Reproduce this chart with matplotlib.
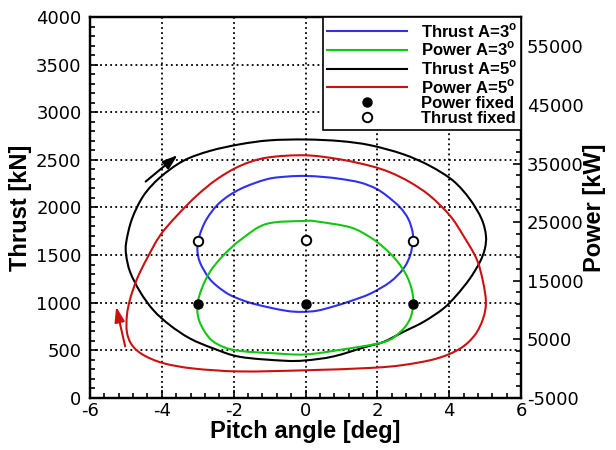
import numpy as np
import matplotlib
matplotlib.use('Agg')
import matplotlib.pyplot as plt
from matplotlib.lines import Line2D
from matplotlib.path import Path
from matplotlib.patches import PathPatch
from matplotlib.ticker import MultipleLocator, FixedLocator

plt.rcParams['font.family'] = ['Liberation Sans', 'DejaVu Sans']
plt.rcParams['mathtext.fontset'] = 'custom'
plt.rcParams['mathtext.rm'] = 'Liberation Sans'
plt.rcParams['mathtext.bf'] = 'Liberation Sans:bold'
plt.rcParams['axes.unicode_minus'] = False

# thrust loop, A = 3 deg  (pitch [deg], thrust [kN])
thrust3_pitch = [0.0, 0.5, 0.97, 1.52, 1.95, 2.26, 2.63, 2.86, 2.98, 2.98, 2.91, 2.72, 2.35,
                 1.80, 1.25, 0.78, 0.32, -0.1, -0.5, -1.08, -1.6, -2.1, -2.45, -2.70, -2.94,
                 -3.01, -2.95, -2.75, -2.38, -1.82, -1.08, -0.5, 0.0]
thrust3_kn = [2331, 2320, 2300, 2262, 2200, 2123, 2001, 1879, 1739, 1634, 1495, 1355, 1216,
              1094, 1016, 960, 915, 903, 912, 955, 1005, 1080, 1170, 1265, 1425,
              1565, 1704, 1879, 2053, 2193, 2296, 2325, 2331]

# power loop, A = 3 deg  (pitch [deg], power [kW])
power3_pitch = [0.0, 0.32, 1.25, 1.80, 2.17, 2.54, 2.81, 2.95, 3.0, 2.91, 2.63, 2.17, 0.97,
                0.0, -0.89, -1.82, -2.29, -2.66, -2.95, -3.01, -2.89, -2.66, -2.29, -1.78,
                -1.08, 0.0]
power3_kw = [25200, 25100, 24100, 22400, 20700, 18400, 15900, 13600, 11300, 8500, 6200, 4500, 3200,
             2400, 2600, 3000, 3700, 5100, 8000, 10800, 13600, 16500, 19300, 22100,
             24700, 25200]

# thrust loop, A = 5 deg
thrust5_pitch = [0.0, 0.97, 1.80, 2.72, 3.46, 4.11, 4.57, 4.90, 5.02, 4.99, 4.85, 4.57, 4.20,
                 3.83, 3.28, 2.72, 2.17, 1.71, 0.78, 0.0, -0.61, -1.82, -2.56, -3.21, -3.77,
                 -4.23, -4.60, -4.88, -4.99, -4.99, -4.83, -4.51, -4.05, -3.40, -2.66, -1.82,
                 -1.0, 0.0]
thrust5_kn = [2714, 2697, 2654, 2559, 2437, 2280, 2088, 1879, 1704, 1565, 1425, 1251, 1076,
              936, 797, 692, 587, 539, 435, 393, 390, 430, 518, 622, 762,
              919, 1111, 1320, 1495, 1634, 1879, 2123, 2315, 2490, 2594, 2664,
              2705, 2714]

# power loop, A = 5 deg
power5_pitch = [0.0, 0.97, 1.80, 2.35, 2.91, 3.46, 4.02, 4.39, 4.76, 4.94, 5.02, 4.94, 4.71,
                4.30, 3.65, 2.72, 1.80, 0.0, -1.82, -3.12, -3.95, -4.51, -4.83, -4.97, -4.97,
                -4.88, -4.69, -4.42, -4.05, -3.58, -3.03, -2.47, -1.82, -1.08, 0.0]
power5_kw = [36400, 35700, 34600, 33500, 31800, 29500, 26100, 22700, 18700, 14800, 11300, 8500, 5700,
             3400, 1700, 600, 100, -300, -500, 0, 900, 2300, 4000, 6200, 9100,
             11900, 15300, 18700, 22700, 26100, 29500, 32300, 34600, 36000, 36400]

# fixed-pitch reference points
fixed_pitch = [-3, 0, 3]
power_fixed_kw = [11000, 11000, 11000]
thrust_fixed_kn = [1645, 1660, 1645]

blue = '#3030f0'
green = '#10c810'
red = '#cc1010'
lw = 1.5


def loop(ax, xs, ys, color):
    # closed curve drawn as bezier segments through the read points
    p = np.column_stack([xs[:-1], ys[:-1]]).astype(float)
    n = len(p)
    verts = [p[0]]
    codes = [Path.MOVETO]
    for i in range(n):
        p0, p1, p2, p3 = p[i - 1], p[i], p[(i + 1) % n], p[(i + 2) % n]
        verts += [p1 + (p2 - p0) / 6, p2 - (p3 - p1) / 6, p2]
        codes += [Path.CURVE4] * 3
    ax.add_patch(PathPatch(Path(verts, codes), fill=False, edgecolor=color, lw=lw))


fig, ax = plt.subplots(figsize=(6.16, 4.5), dpi=100)
fig.subplots_adjust(left=0.146, right=0.846, bottom=0.116, top=0.962)
ax2 = ax.twinx()

loop(ax, thrust3_pitch, thrust3_kn, blue)
loop(ax, thrust5_pitch, thrust5_kn, 'black')
loop(ax2, power3_pitch, power3_kw, green)
loop(ax2, power5_pitch, power5_kw, red)
ax2.plot(fixed_pitch, power_fixed_kw, 'o', color='black', ms=6.5, ls='none')
ax.plot(fixed_pitch, thrust_fixed_kn, 'o', mfc='white', mec='black', mew=1.4, ms=6.8, ls='none')

# direction arrows
arrow = '-|>,head_length=0.9,head_width=0.3'
ax.annotate('', xy=(-3.56, 2550), xytext=(-4.45, 2272),
            arrowprops=dict(arrowstyle=arrow, color='black', lw=1.5, mutation_scale=10,
                            shrinkA=0, shrinkB=0))
ax.annotate('', xy=(-5.27, 957), xytext=(-5.02, 540),
            arrowprops=dict(arrowstyle=arrow, color=red, lw=1.5, mutation_scale=10,
                            shrinkA=0, shrinkB=0))

ax.set_xlim(-6, 6)
ax.set_ylim(0, 4000)
ax2.set_ylim(-5000, 60000)

ax.set_xticks(np.arange(-6, 7, 2))
ax.xaxis.set_minor_locator(MultipleLocator(0.4))
ax.set_yticks(np.arange(0, 4001, 500))
ax.yaxis.set_minor_locator(MultipleLocator(100))
ax2.set_yticks(np.arange(-5000, 55001, 10000))
ax2.yaxis.set_minor_locator(FixedLocator(np.arange(-5000, 60001, 2000)))

ax.grid(which='major', color='black', linestyle=(0, (1, 1.8)), lw=1.3)

for a in (ax, ax2):
    for s in a.spines.values():
        s.set_linewidth(1.6)
ax.tick_params(which='both', direction='in', top=False, right=False, width=1.2,
               labelsize=13, labelfontfamily='DejaVu Sans')
ax.tick_params(which='major', length=6)
ax.tick_params(which='minor', length=3.5)
ax.tick_params(axis='y', pad=6)
ax.tick_params(axis='x', pad=3)
ax2.tick_params(which='both', direction='in', width=1.2, labelsize=13, pad=4,
                labelfontfamily='DejaVu Sans')
ax2.tick_params(which='major', length=6)
ax2.tick_params(which='minor', length=3.5)

ax.set_xlabel('Pitch angle [deg]', fontsize=17, fontweight='bold', labelpad=0)
ax.set_ylabel('Thrust [kN]', fontsize=17, fontweight='bold', labelpad=3)
ax2.set_ylabel('Power [kW]', fontsize=17, fontweight='bold', labelpad=0)

handles = [
    Line2D([], [], color=blue, lw=lw),
    Line2D([], [], color=green, lw=lw),
    Line2D([], [], color='black', lw=lw),
    Line2D([], [], color=red, lw=lw),
    Line2D([], [], marker='o', color='black', ls='none', ms=6.5),
    Line2D([], [], marker='o', mfc='white', mec='black', mew=1.4, ls='none', ms=6.8),
]
labels = [r'Thrust A=3$^\mathbf{o}$', r'Power A=3$^\mathbf{o}$',
          r'Thrust A=5$^\mathbf{o}$', r'Power A=5$^\mathbf{o}$',
          'Power fixed', 'Thrust fixed']
leg = ax2.legend(handles, labels, loc='upper right', bbox_to_anchor=(1, 1), borderaxespad=0,
                 fancybox=False, framealpha=1, edgecolor='black', handlelength=4.8,
                 handletextpad=0.8, labelspacing=0.0, borderpad=0.25,
                 prop={'weight': 'bold', 'size': 12})
leg.get_frame().set_linewidth(1.2)

fig.savefig('out.png', dpi=100)
